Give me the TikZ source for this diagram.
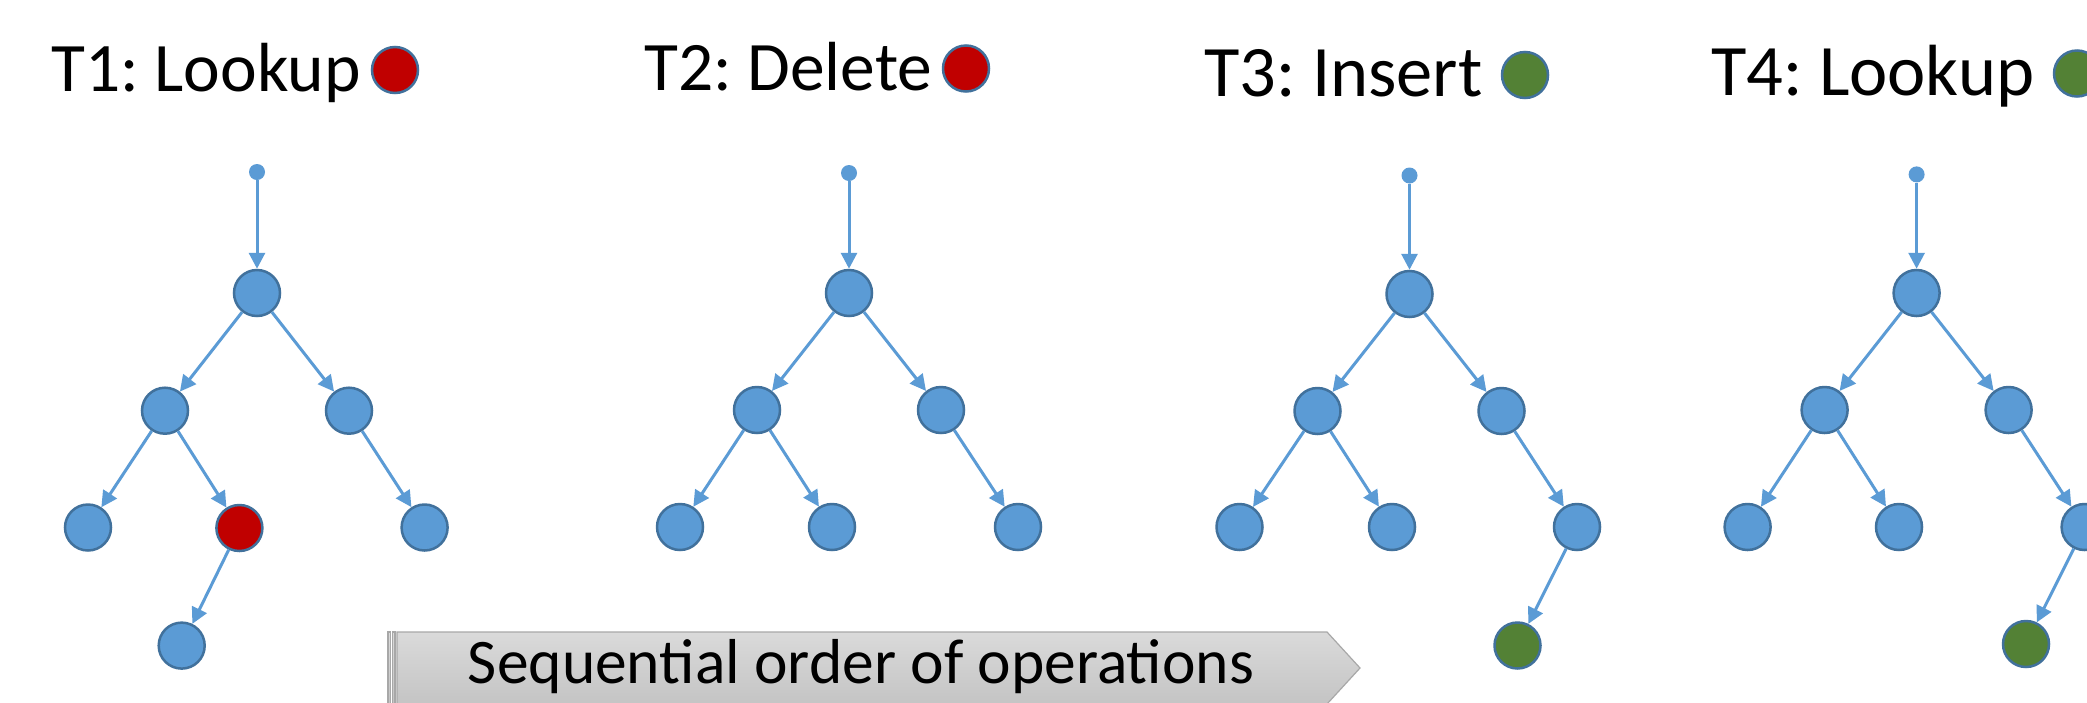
\documentclass[tikz,border=0pt]{standalone}
\usepackage{fontspec}
\setmainfont{Carlito}
\usetikzlibrary{arrows.meta}
\definecolor{nodeblue}{HTML}{5B9BD5}
\definecolor{nodeedge}{HTML}{41719C}
\definecolor{delred}{HTML}{C00000}
\definecolor{insgreen}{HTML}{538135}
\definecolor{arrtop}{HTML}{DADADA}
\definecolor{arrbot}{HTML}{C4C4C4}
\definecolor{arrline}{HTML}{A8A8A8}
\tikzset{
  tnode/.style={circle, draw=nodeedge, line width=2.5pt, fill=nodeblue, minimum size=46pt, inner sep=0pt},
  rnode/.style={tnode, fill=delred},
  gnode/.style={tnode, fill=insgreen},
  rootdot/.style={circle, fill=nodeblue, minimum size=16pt, inner sep=0pt},
  conn/.style={draw=nodeblue, line width=3pt, -{Triangle[length=16pt,width=16pt]}},
  title/.style={anchor=base west, inner sep=0pt},
  marker/.style={circle, draw=nodeedge, line width=2.5pt, minimum size=46pt, inner sep=0pt},
}
\frenchspacing
\begin{document}
\begin{tikzpicture}[x=1pt,y=-1pt]
\useasboundingbox (0,0) rectangle (2087,702);
\clip (0,0) rectangle (2087,702);
\fill[white] (0,0) rectangle (2087,702);

% titles
\node[title, font=\fontsize{69.5}{80}\selectfont] (t1) at (51,91.7) {T1: Lookup};
\node[marker, fill=delred] (m1) at (395,70) {};
\node[title, font=\fontsize{69.5}{80}\selectfont] (t2) at (644,90) {T2: Delete};
\node[marker, fill=delred] (m2) at (966,68.5) {};
\node[title, font=\fontsize{72.5}{84}\selectfont] (t3) at (1204,96) {T3: Insert};
\node[marker, fill=insgreen] (m3) at (1525,75) {};
\node[title, font=\fontsize{72.5}{84}\selectfont] (t4) at (1711,95) {T4: Lookup};
\node[marker, fill=insgreen] (m4) at (2077,73.5) {};

% tree 1
\begin{scope}[shift={(257,0)}]
\node[rootdot] (a0) at (0,172) {};
\node[tnode] (ar) at (0,293) {};
\node[tnode] (al) at (-92,410.7) {};
\node[tnode] (aR) at (92,410.7) {};
\node[tnode] (all) at (-169,527.5) {};
\node[rnode] (alr) at (-17.6,528) {};
\node[tnode] (aRR) at (167.6,527.5) {};
\node[tnode] (alrl) at (-75.3,645.6) {};
\end{scope}
\draw[conn] (a0) -- (ar);
\draw[conn] (ar) -- (al);
\draw[conn] (ar) -- (aR);
\draw[conn] (al) -- (all);
\draw[conn] (al) -- (alr);
\draw[conn] (aR) -- (aRR);
\draw[conn] (alr) -- (alrl);

% tree 2
\begin{scope}[shift={(849,0)}]
\node[rootdot] (b0) at (0,173) {};
\node[tnode] (br) at (0,293) {};
\node[tnode] (bl) at (-92,410) {};
\node[tnode] (bR) at (92,410) {};
\node[tnode] (bll) at (-169,527) {};
\node[tnode] (blr) at (-17,527) {};
\node[tnode] (bRR) at (169,527) {};
\end{scope}
\draw[conn] (b0) -- (br);
\draw[conn] (br) -- (bl);
\draw[conn] (br) -- (bR);
\draw[conn] (bl) -- (bll);
\draw[conn] (bl) -- (blr);
\draw[conn] (bR) -- (bRR);

% tree 3
\begin{scope}[shift={(1409.5,0)}]
\node[rootdot] (c0) at (0,175.5) {};
\node[tnode] (cr) at (0,294) {};
\node[tnode] (cl) at (-92,411) {};
\node[tnode] (cR) at (92,411) {};
\node[tnode] (cll) at (-170,527) {};
\node[tnode] (clr) at (-17.5,527) {};
\node[tnode] (cRR) at (167.5,527) {};
\node[gnode] (cRRl) at (108,645.5) {};
\end{scope}
\draw[conn] (c0) -- (cr);
\draw[conn] (cr) -- (cl);
\draw[conn] (cr) -- (cR);
\draw[conn] (cl) -- (cll);
\draw[conn] (cl) -- (clr);
\draw[conn] (cR) -- (cRR);
\draw[conn] (cRR) -- (cRRl);

% tree 4
\begin{scope}[shift={(1916.6,0)}]
\node[rootdot] (d0) at (0,174.4) {};
\node[tnode] (dr) at (0,293) {};
\node[tnode] (dl) at (-92,410) {};
\node[tnode] (dR) at (92,410) {};
\node[tnode] (dll) at (-169,527) {};
\node[tnode] (dlr) at (-17.6,527) {};
\node[tnode] (dRR) at (168,527) {};
\node[gnode] (dRRl) at (109.4,644) {};
\end{scope}
\draw[conn] (d0) -- (dr);
\draw[conn] (dr) -- (dl);
\draw[conn] (dr) -- (dR);
\draw[conn] (dl) -- (dll);
\draw[conn] (dl) -- (dlr);
\draw[conn] (dR) -- (dRR);
\draw[conn] (dRR) -- (dRRl);

% sequential arrow
\shade[top color=arrtop, bottom color=arrbot, draw=arrline, line width=1.2pt]
  (388,632) rectangle (390.5,704);
\shade[top color=arrtop, bottom color=arrbot, draw=arrline, line width=1.2pt]
  (392.5,632) rectangle (395,704);
\shade[top color=arrtop, bottom color=arrbot, draw=arrline, line width=1.2pt]
  (397,632) -- (1327,632) -- (1360,668) -- (1327,704) -- (397,704) -- cycle;
\node[anchor=base, inner sep=0pt, font=\fontsize{63.5}{70}\selectfont] (seq) at (861,683) {Sequential order of operations};
\end{tikzpicture}
\end{document}
